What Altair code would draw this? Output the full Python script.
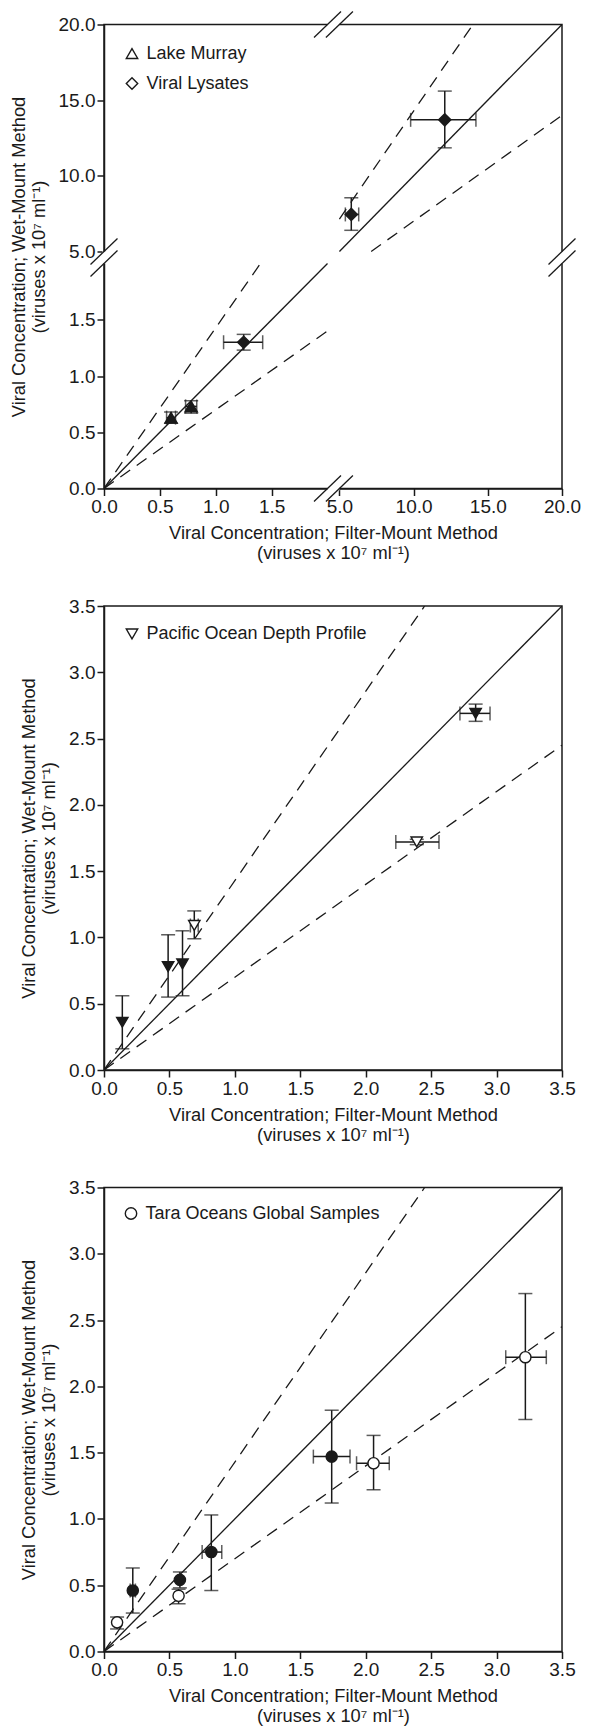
import altair as alt
import pandas as pd

FONT = "Liberation Sans"
INK = "#1a1a1a"

X_TITLE = ["Viral Concentration; Filter-Mount Method", "(viruses x 10\u2077 ml\u207b\u00b9)"]
Y_TITLE = ["Viral Concentration; Wet-Mount Method", "(viruses x 10\u2077 ml\u207b\u00b9)"]

# ---------------- Panel 1: Lake Murray / Viral Lysates (broken axes) ----------------
p1_series = ["Lake Murray", "Lake Murray", "Viral Lysates", "Viral Lysates", "Viral Lysates"]
p1_fill = ["filled", "filled", "filled", "filled", "filled"]
p1_x = [0.60, 0.78, 1.25, 5.80, 12.10]
p1_y = [0.63, 0.73, 1.30, 7.45, 13.70]
p1_xlo = [0.56, 0.73, 1.07, 5.40, 9.80]
p1_xhi = [0.64, 0.83, 1.42, 6.30, 14.20]
p1_ylo = [0.58, 0.67, 1.23, 6.40, 11.85]
p1_yhi = [0.68, 0.78, 1.37, 8.55, 15.60]
p1_ticks = [0, 0.5, 1.0, 1.5, 5, 10, 15, 20]
p1_solid_x = [0, 2, 5, 20]
p1_solid_y = [0, 2, 5, 20]
p1_solid_seg = ["a", "a", "b", "b"]
p1_dash_x = [0, 1.4, 5, 14, 0, 2, 7.14, 20]
p1_dash_y = [0, 2, 7.14, 20, 0, 1.4, 5, 14]
p1_dash_seg = ["a", "a", "b", "b", "c", "c", "d", "d"]
brk_x = [2, 5, 2, 5, 0, 0, 20, 20]
brk_y = [0, 0, 20, 20, 2, 5, 2, 5]
gap_x = [2, 2, 0, 20]
gap_x2 = [5, 5, 0, 20]
gap_y = [0, 20, 2, 2]
gap_y2 = [0, 20, 5, 5]

# ---------------- Panel 2: Pacific Ocean Depth Profile ----------------
p2_series = ["Pacific Ocean Depth Profile"] * 6
p2_fill = ["filled", "filled", "filled", "open", "open", "filled"]
p2_x = [0.14, 0.49, 0.60, 0.69, 2.39, 2.84]
p2_y = [0.36, 0.78, 0.80, 1.09, 1.72, 2.69]
p2_ylo = [0.16, 0.55, 0.56, 0.99, 1.70, 2.63]
p2_yhi = [0.56, 1.02, 1.05, 1.20, 1.74, 2.76]
p2_xlo = [None, None, None, 0.66, 2.23, 2.72]
p2_xhi = [None, None, None, 0.72, 2.56, 2.95]

# ---------------- Panel 3: Tara Oceans Global Samples ----------------
p3_series = ["Tara Oceans Global Samples"] * 8
p3_fill = ["open", "filled", "open", "filled", "filled", "filled", "open", "open"]
p3_x = [0.10, 0.22, 0.57, 0.58, 0.82, 1.74, 2.06, 3.22]
p3_y = [0.22, 0.46, 0.42, 0.54, 0.75, 1.47, 1.42, 2.22]
p3_ylo = [0.17, 0.29, 0.36, 0.48, 0.46, 1.12, 1.22, 1.75]
p3_yhi = [0.26, 0.63, 0.47, 0.60, 1.03, 1.82, 1.63, 2.70]
p3_xlo = [None, 0.20, None, None, 0.75, 1.60, 1.93, 3.07]
p3_xhi = [None, 0.24, None, None, 0.90, 1.88, 2.18, 3.38]

lin_ticks = [0, 0.5, 1.0, 1.5, 2.0, 2.5, 3.0, 3.5]
lin_solid_x = [0, 3.5]
lin_solid_y = [0, 3.5]
lin_solid_seg = ["a", "a"]
lin_dash_x = [0, 2.45, 0, 3.5]
lin_dash_y = [0, 3.5, 0, 2.45]
lin_dash_seg = ["a", "a", "b", "b"]

W, H = 458, 464


def frames(series, fill, x, y, xlo, xhi, ylo, yhi):
    pts = pd.DataFrame({"series": series, "fill": fill, "x": x, "y": y})
    ex = pd.DataFrame({"y": y, "xlo": xlo, "xhi": xhi}).dropna()
    ey = pd.DataFrame({"x": x, "ylo": ylo, "yhi": yhi}).dropna()
    return pts, ex, ey


def panel(xs, ys, ticks, solid, dashed, pts, ex, ey, shape_dom, shape_rng, msize, leg_x, leg_y, extras=()):
    xaxis = alt.Axis(values=ticks, format=".1f", title=X_TITLE, labelFlush=False, labelOverlap=False,
                     titlePadding=8)
    yaxis = alt.Axis(values=ticks, format=".1f", title=Y_TITLE, labelFlush=False, labelOverlap=False,
                     titlePadding=10)

    def ex_(f):
        return alt.X(f"{f}:Q", scale=xs, axis=xaxis)

    def ey_(f):
        return alt.Y(f"{f}:Q", scale=ys, axis=yaxis)

    solid_l = alt.Chart(solid).mark_line(color=INK, strokeWidth=1.3, clip=True).encode(
        x=ex_("x"), y=ey_("y"), detail="seg:N")
    dashed_l = alt.Chart(dashed).mark_line(color=INK, strokeWidth=1.3, strokeDash=[12, 8], clip=True).encode(
        x=ex_("x"), y=ey_("y"), detail="seg:N")
    ebx = alt.Chart(ex).mark_errorbar(ticks={"size": 14}, thickness=1.5, color=INK).encode(
        x=ex_("xlo"), x2=alt.X2("xhi"), y=ey_("y"))
    eby = alt.Chart(ey).mark_errorbar(ticks={"size": 14}, thickness=1.5, color=INK).encode(
        x=ex_("x"), y=ey_("ylo"), y2=alt.Y2("yhi"))
    points = alt.Chart(pts).mark_point(filled=True, stroke=INK, strokeWidth=1.4, size=msize, opacity=1).encode(
        x=ex_("x"), y=ey_("y"),
        shape=alt.Shape("series:N", scale=alt.Scale(domain=shape_dom, range=shape_rng),
                        legend=alt.Legend(title=None, orient="none", legendX=leg_x, legendY=leg_y,
                                          symbolFillColor="white", symbolStrokeColor=INK,
                                          symbolStrokeWidth=1.4, symbolSize=130, labelFontSize=18,
                                          labelFont=FONT, labelColor=INK, rowPadding=12,
                                          labelOffset=5.5, padding=0, labelLimit=600)),
        fill=alt.Fill("fill:N", scale=alt.Scale(domain=["filled", "open"], range=[INK, "white"]), legend=None),
    )
    layers = [solid_l, dashed_l, ebx, eby, points] + [e(ex_, ey_) for e in extras]
    return alt.layer(*layers).properties(width=W, height=H)


# panel 1 (piecewise scale: lower segment 0-2, upper segment 5-20)
pts1, ex1, ey1 = frames(p1_series, p1_fill, p1_x, p1_y, p1_xlo, p1_xhi, p1_ylo, p1_yhi)
xs1 = alt.Scale(domain=[0, 2, 5, 20], range=[0, W * 0.488, W * 0.514, W], nice=False, zero=False)
ys1 = alt.Scale(domain=[0, 2, 5, 20], range=[H, 239, 227, 0], nice=False, zero=False)
solid1 = pd.DataFrame({"x": p1_solid_x, "y": p1_solid_y, "seg": p1_solid_seg})
dash1 = pd.DataFrame({"x": p1_dash_x, "y": p1_dash_y, "seg": p1_dash_seg})
brk_df = pd.DataFrame({"bx": brk_x, "by": brk_y})
gap_df = pd.DataFrame({"gx": gap_x, "gx2": gap_x2, "gy": gap_y, "gy2": gap_y2})


def gap_layer(ex_, ey_):
    return alt.Chart(gap_df).mark_rule(color="white", strokeWidth=4).encode(
        x=ex_("gx"), x2=alt.X2("gx2"), y=ey_("gy"), y2=alt.Y2("gy2"))


def slash_layer(ex_, ey_):
    return alt.Chart(brk_df).mark_rule(color=INK, strokeWidth=1.3, xOffset=-13.5, x2Offset=13.5,
                                       yOffset=13, y2Offset=-13).encode(
        x=ex_("bx"), x2=alt.X2("bx"), y=ey_("by"), y2=alt.Y2("by"))


p1 = panel(xs1, ys1, p1_ticks, solid1, dash1, pts1, ex1, ey1,
           ["Lake Murray", "Viral Lysates"], ["triangle-up", "diamond"], 150, 19, 20,
           extras=(gap_layer, slash_layer))

# panel 2
pts2, ex2, ey2 = frames(p2_series, p2_fill, p2_x, p2_y, p2_xlo, p2_xhi, p2_ylo, p2_yhi)
xs_lin = alt.Scale(domain=[0, 3.5], nice=False, zero=False)
ys_lin = alt.Scale(domain=[0, 3.5], nice=False, zero=False)
solid_lin = pd.DataFrame({"x": lin_solid_x, "y": lin_solid_y, "seg": lin_solid_seg})
dash_lin = pd.DataFrame({"x": lin_dash_x, "y": lin_dash_y, "seg": lin_dash_seg})
p2 = panel(xs_lin, ys_lin, lin_ticks, solid_lin, dash_lin, pts2, ex2, ey2,
           ["Pacific Ocean Depth Profile"], ["triangle-down"], 130, 19, 19)

# panel 3
pts3, ex3, ey3 = frames(p3_series, p3_fill, p3_x, p3_y, p3_xlo, p3_xhi, p3_ylo, p3_yhi)
p3 = panel(xs_lin, ys_lin, lin_ticks, solid_lin, dash_lin, pts3, ex3, ey3,
           ["Tara Oceans Global Samples"], ["circle"], 125, 18, 17)

chart = alt.vconcat(p1, p2, p3, spacing=32.5).resolve_scale(
    x="independent", y="independent", shape="independent", fill="independent"
).properties(
    padding={"left": 0, "top": 1.5, "right": 0, "bottom": 0}
).configure_view(
    stroke=INK, strokeWidth=1.5
).configure_axis(
    domainColor=INK, domainWidth=1.5, tickColor=INK, tickWidth=1.5, tickSize=7,
    labelFont=FONT, labelFontSize=19, labelColor=INK, labelPadding=2,
    titleFont=FONT, titleFontSize=18.3, titleFontWeight="normal", titleColor=INK,
    titleLineHeight=20, grid=False
).configure_legend(
    labelFont=FONT, labelFontSize=18, labelColor=INK
)

chart.save("out.html", embed_options={"renderer": "svg", "actions": False})
